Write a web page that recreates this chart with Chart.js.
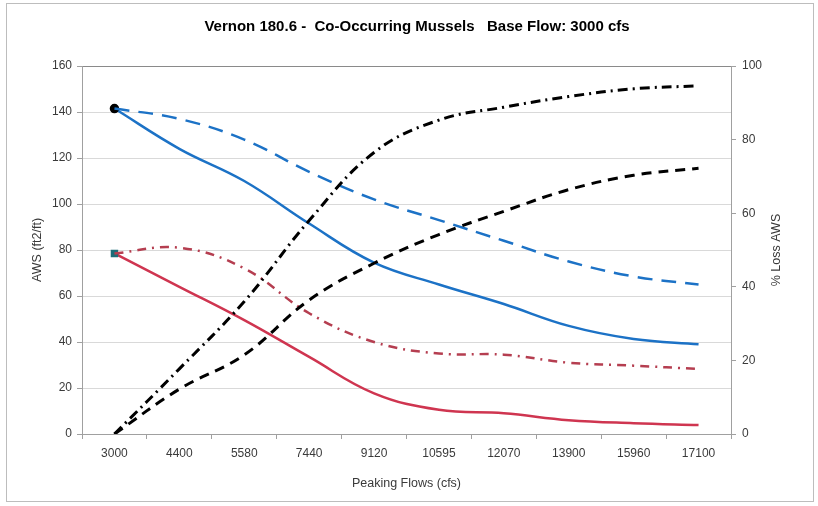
<!DOCTYPE html>
<html>
<head>
<meta charset="utf-8">
<script src="https://cdn.jsdelivr.net/npm/chart.js@4/dist/chart.umd.min.js"></script>
<style>
  html, body { margin: 0; padding: 0; background: #fff; }
  #wrap { width: 818px; height: 506px; }
</style>
</head>
<body>
<div id="wrap"><canvas id="chart" width="818" height="506"></canvas></div>
<script>
// categories (peaking flows, cfs)
const flows = ["3000", "4400", "5580", "7440", "9120", "10595", "12070", "13900", "15960", "17100"];

// AWS (ft2/ft) - left axis
const awsBlue = [141.5, 124, 110, 91.5, 74.5, 65, 56.5, 47, 41.3, 39];
const awsBlueDash = [141.5, 137, 128, 114, 102, 93, 84, 75, 68.5, 65];
const awsRed = [78.5, 64, 49.5, 33.5, 17.7, 10.5, 9, 6, 4.7, 3.9];
const awsRedDashDot = [78.5, 81, 72, 52.5, 40, 35, 34.5, 31, 29.7, 28.3];

// % loss AWS - right axis
const lossBlue = [0, 12.2, 21.5, 36.4, 46.4, 54.2, 60.5, 66.4, 70.3, 72.2];
const lossRed = [0, 17.7, 36, 58, 76.5, 85.3, 88.8, 91.7, 93.8, 94.6];

// tick settings
const leftTicks = { min: 0, max: 160, step: 20 };
const rightTicks = { min: 0, max: 100, step: 20 };

const FONT = "'Liberation Sans', Arial, sans-serif";
const BLUE = "#1c72c6";
const RED = "#cf3550";
const RED2 = "#b53e50";
const TXT = "#3a3a3a";

const firstOnly = (r) => flows.map((f, i) => i === 0 ? r : 0);

// frame + right axis title (reads bottom to top like the left one)
const extras = {
    id: "extras",
    beforeDraw(chart) {
        const ctx = chart.ctx;
        ctx.save();
        ctx.fillStyle = "#fff";
        ctx.fillRect(0, 0, chart.width, chart.height);
        ctx.strokeStyle = "#bdbdbd";
        ctx.lineWidth = 1;
        ctx.strokeRect(6.5, 3.5, 807, 498);
        ctx.restore();
    },
    afterDraw(chart) {
        const ctx = chart.ctx;
        const area = chart.chartArea;
        ctx.save();
        ctx.translate(777, (area.top + area.bottom) / 2);
        ctx.rotate(-Math.PI / 2);
        ctx.font = "12.5px " + FONT;
        ctx.fillStyle = TXT;
        ctx.textAlign = "center";
        ctx.textBaseline = "middle";
        ctx.fillText("% Loss AWS", 0, 0);
        ctx.restore();
    }
};

new Chart(document.getElementById("chart"), {
    type: "line",
    data: {
        labels: flows,
        datasets: [
            {
                data: lossRed, yAxisID: "y1",
                borderColor: "#000", borderWidth: 3, borderDash: [10, 5, 2, 5],
                pointRadius: 0, tension: 0.4
            },
            {
                data: lossBlue, yAxisID: "y1",
                borderColor: "#000", borderWidth: 3, borderDash: [10, 7],
                pointRadius: 0, tension: 0.4
            },
            {
                data: awsBlueDash, yAxisID: "y",
                borderColor: BLUE, borderWidth: 2.5, borderDash: [15, 9],
                pointRadius: 0, tension: 0.4
            },
            {
                data: awsRedDashDot, yAxisID: "y",
                borderColor: RED2, borderWidth: 2.5, borderDash: [9, 6, 2, 6],
                pointRadius: 0, tension: 0.4
            },
            {
                data: awsRed, yAxisID: "y",
                borderColor: RED, borderWidth: 2.5,
                pointRadius: firstOnly(3.5), pointStyle: "rect",
                pointBackgroundColor: "#1d6c78", pointBorderColor: "#1d6c78",
                tension: 0.4
            },
            {
                data: awsBlue, yAxisID: "y",
                borderColor: BLUE, borderWidth: 2.5,
                pointRadius: firstOnly(3.5), pointStyle: "circle",
                pointBackgroundColor: "#000", pointBorderColor: "#000",
                tension: 0.4
            }
        ]
    },
    options: {
        responsive: false,
        animation: false,
        layout: { padding: { left: 16, right: 0, top: 0, bottom: 0 } },
        plugins: {
            legend: { display: false },
            tooltip: { enabled: false },
            title: {
                display: true,
                text: "Vernon 180.6 -  Co-Occurring Mussels   Base Flow: 3000 cfs",
                color: "#000",
                font: { family: FONT, size: 15, weight: "bold" },
                padding: { top: 18, bottom: 30 }
            }
        },
        scales: {
            x: {
                offset: true,
                grid: { offset: true, drawOnChartArea: false, tickLength: 5, tickColor: "#a0a0a0" },
                border: { color: "#a0a0a0" },
                ticks: { color: TXT, font: { family: FONT, size: 12 }, padding: 7, maxRotation: 0 },
                title: {
                    display: true, text: "Peaking Flows (cfs)", color: TXT,
                    font: { family: FONT, size: 12.5 }, padding: { top: 4, bottom: 15 }
                },
                afterFit: (s) => { s.height = 72; }
            },
            y: {
                position: "left",
                min: leftTicks.min, max: leftTicks.max,
                grid: {
                    color: (c) => c.tick && c.tick.value === leftTicks.max ? "#8a8a8a" : "#d9d9d9",
                    tickLength: 5, tickColor: "#a0a0a0"
                },
                border: { color: "#a0a0a0" },
                ticks: { stepSize: leftTicks.step, color: TXT, font: { family: FONT, size: 12 }, padding: 5 },
                title: {
                    display: true, text: "AWS (ft2/ft)", color: TXT,
                    font: { family: FONT, size: 12.5 }, padding: { top: 14, bottom: 0 }
                },
                afterFit: (s) => { s.width = 66; }
            },
            y1: {
                position: "right",
                min: rightTicks.min, max: rightTicks.max,
                grid: { drawOnChartArea: false, tickLength: 5, tickColor: "#a0a0a0" },
                border: { color: "#a0a0a0" },
                ticks: { stepSize: rightTicks.step, color: TXT, font: { family: FONT, size: 12 }, padding: 6 },
                afterFit: (s) => { s.width = 87; }
            }
        }
    },
    plugins: [extras]
});
</script>
</body>
</html>
